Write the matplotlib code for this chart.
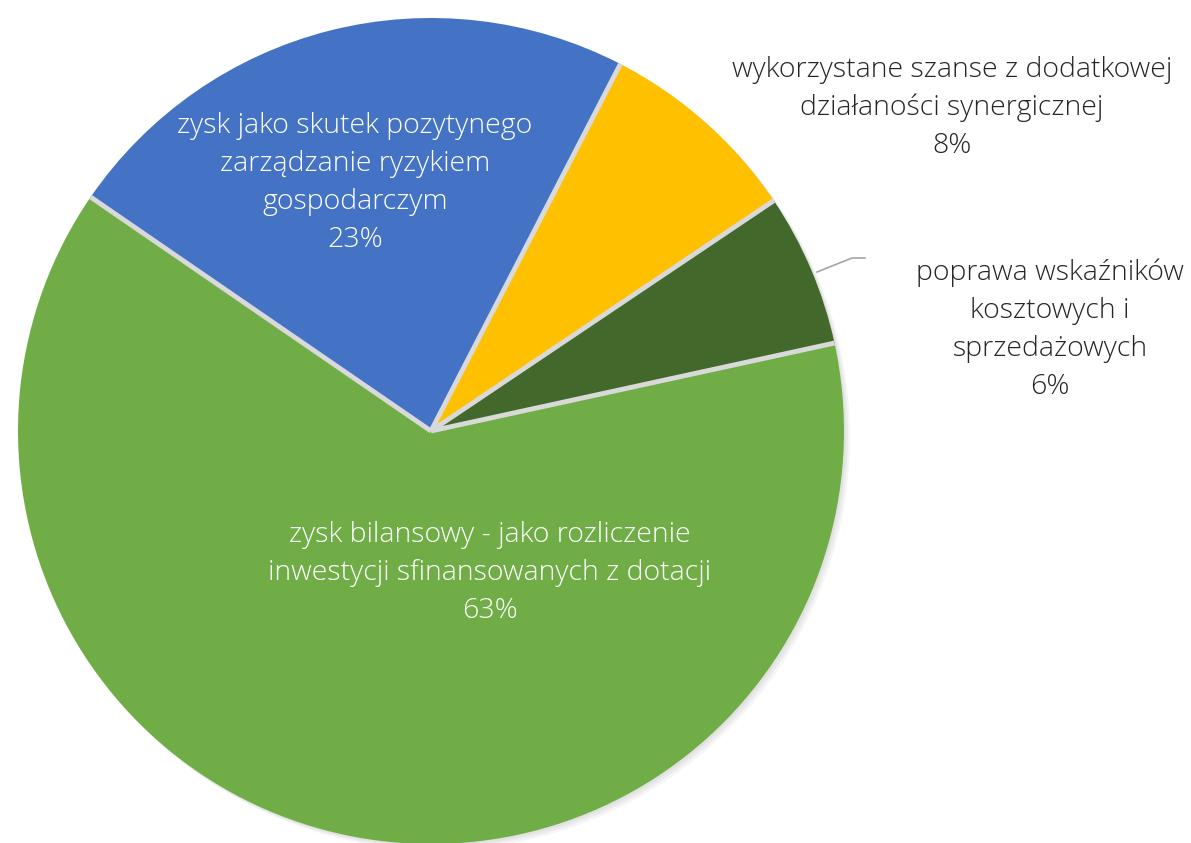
import numpy as np
import matplotlib.pyplot as plt
from matplotlib.patches import Circle

labels = ["zysk jako skutek pozytynego\nzarządzanie ryzykiem\ngospodarczym",
          "wykorzystane szanse z dodatkowej\ndziałaności synergicznej",
          "poprawa wskaźników\nkosztowych i\nsprzedażowych",
          "zysk bilansowy - jako rozliczenie\ninwestycji sfinansowanych z dotacji"]
values = [23, 8, 6, 63]
colors = ["#4472C4", "#FFC000", "#43682B", "#70AD47"]

W, H = 1191, 843
fig = plt.figure(figsize=(W / 100, H / 100), dpi=100)
ax = fig.add_axes([0, 0, 1, 1])

cx, cy, r = 431, H - 431, 413

# soft shadow
for i in range(3):
    ax.add_patch(Circle((cx + 2 + i * 2, cy - 2 - i * 2), r, color="black", alpha=0.04, lw=0, zorder=0))

wedges, _ = ax.pie(values, colors=colors, startangle=145.5, counterclock=False,
                   center=(cx, cy), radius=r, frame=True,
                   wedgeprops=dict(linewidth=0))

# separators only between slices (no outline on the rim)
for w in wedges:
    t = np.deg2rad(w.theta1)
    ax.plot([cx, cx + r * np.cos(t)], [cy, cy + r * np.sin(t)], color="#D9D9D9", lw=3.5,
            solid_capstyle="butt", zorder=5)

ax.set_xlim(0, W)
ax.set_ylim(0, H)
ax.axis("off")

font = dict(family=["Open Sans", "DejaVu Sans"], fontweight="light", fontsize=20.5,
            ha="center", va="center", linespacing=1.48)

pos = [(355, 183, "white"), (952, 108, "#262626"), (1050, 330, "#262626"), (490, 573, "white")]
for lab, v, (x, y, c) in zip(labels, values, pos):
    ax.text(x, H - y, f"{lab}\n{v}%", color=c, zorder=6, **font)

# leader line for small slice
ax.plot([817, 852, 865], [H - 272, H - 258, H - 258], color="#A6A6A6", lw=1.2)

fig.savefig("out.png", dpi=100)
